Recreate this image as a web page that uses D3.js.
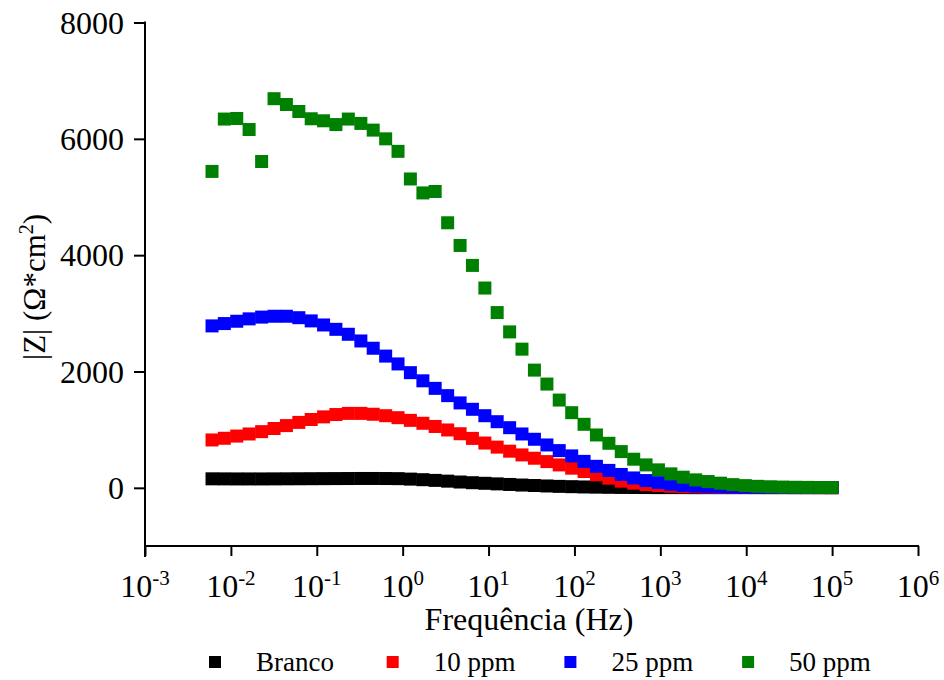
<!DOCTYPE html>
<html>
<head>
<meta charset="utf-8">
<script src="https://cdn.jsdelivr.net/npm/d3@7"></script>
<style>
  body { margin: 0; background: #fff; }
  svg text { font-family: 'Liberation Serif', 'DejaVu Serif', serif; fill: #000; }
</style>
</head>
<body>
<div id="chart"></div>
<script>
// frequencies (Hz), low to high
var freq = [0.00603, 0.00839, 0.0117, 0.0163, 0.0228, 0.0318, 0.0443, 0.0618, 0.0861, 0.120,
            0.167, 0.233, 0.326, 0.454, 0.634, 0.883, 1.23, 1.72, 2.39, 3.34,
            4.66, 6.49, 9.06, 12.6, 17.6, 24.5, 34.2, 47.8, 66.5, 92.9,
            129.4, 180.3, 251.8, 350.8, 489.8, 682.3, 950.6, 1327, 1849, 2582,
            3597, 5012, 6998, 9750, 13614, 18967, 26424, 36898, 51404, 71779, 100000];

var branco = [155, 154, 153, 153, 153, 154, 155, 156, 157, 158,
              159, 160, 161, 161, 160, 158, 150, 140, 128, 115,
              100, 88, 78, 68, 58, 48, 40, 32, 25, 20,
              15, 12, 9, 7, 6, 5, 4, 4, 4, 3,
              3, 3, 3, 3, 3, 3, 3, 3, 3, 3, 3];

var ppm10 = [823, 852, 890, 926, 966, 1020, 1070, 1125, 1175, 1220,
             1260, 1280, 1280, 1265, 1240, 1206, 1160, 1110, 1055, 995,
             930, 850, 770, 700, 630, 566, 509, 451, 394, 338,
             280, 223, 166, 115, 80, 55, 38, 27, 20, 15,
             12, 10, 8, 7, 6, 5, 5, 4, 4, 4, 3];

var ppm25 = [2784, 2824, 2864, 2905, 2935, 2950, 2950, 2925, 2870, 2800,
             2725, 2640, 2525, 2400, 2265, 2130, 1980, 1840, 1710, 1585,
             1460, 1350, 1240, 1137, 1034, 926, 835, 737, 640, 549,
             455, 370, 300, 230, 170, 125, 90, 62, 42, 30,
             22, 16, 12, 10, 8, 7, 6, 5, 5, 4, 4];

var ppm50 = [5440, 6340, 6350, 6160, 5610, 6690, 6590, 6470, 6345, 6310,
             6245, 6340, 6265, 6150, 6000, 5785, 5310, 5070, 5095, 4557,
             4167, 3824, 3435, 3013, 2681, 2384, 2024, 1784, 1509, 1292,
             1092, 909, 766, 623, 492, 394, 309, 240, 183, 137,
             108, 80, 55, 38, 26, 18, 13, 10, 8, 6, 5];

var seriesNames = ["Branco", "10 ppm", "25 ppm", "50 ppm"];
var seriesColors = ["#000000", "#ff0000", "#0000ff", "#008000"];
var seriesValues = [branco, ppm10, ppm25, ppm50];

var xMajor = [1e-3, 1e-2, 1e-1, 1e0, 1e1, 1e2, 1e3, 1e4, 1e5, 1e6];
var xExp = ["-3", "-2", "-1", "0", "1", "2", "3", "4", "5", "6"];
var yMajor = [0, 2000, 4000, 6000, 8000];
var yMinor = [-1000, 1000, 3000, 5000, 7000];

var serif = "'Liberation Serif', 'DejaVu Serif', serif";

var width = 944, height = 680;
var svg = d3.select("#chart").append("svg")
    .attr("width", width)
    .attr("height", height);

var x = d3.scaleLog().domain([1e-3, 1e6]).range([145, 918]);
var y = d3.scaleLinear().domain([-1000, 8000]).range([546, 22.5]);

// minor x ticks 2..9 per decade
var xMinor = [];
xMajor.slice(0, -1).forEach(function(d) {
  for (var k = 2; k <= 9; k++) xMinor.push(d * k);
});

var markerSize = 13;

// series, black first so green ends on top
seriesValues.forEach(function(vals, i) {
  svg.append("g")
    .selectAll("rect")
    .data(vals)
    .enter()
    .append("rect")
    .attr("x", function(d, j) { return x(freq[j]) - markerSize / 2; })
    .attr("y", function(d) { return y(d) - markerSize / 2; })
    .attr("width", markerSize)
    .attr("height", markerSize)
    .style("fill", seriesColors[i]);
});

// x axis
var gx = svg.append("g").attr("transform", "translate(0,546)");
gx.call(d3.axisBottom(x).tickValues(xMinor).tickSize(5).tickFormat(""));
gx.call(d3.axisBottom(x).tickValues(xMajor).tickSize(10).tickFormat("").tickSizeOuter(0));
gx.selectAll("path, line").attr("stroke", "#000").attr("stroke-width", 2);
gx.select(".domain").attr("d", "M144,0H919");

var xl = svg.append("g").selectAll("text")
    .data(xMajor)
    .enter()
    .append("text")
    .attr("x", function(d) { return x(d); })
    .attr("y", 597)
    .attr("text-anchor", "middle")
    .style("font-family", serif)
    .style("font-size", "32px");
xl.append("tspan").text("10");
xl.append("tspan")
    .attr("dy", -12)
    .style("font-size", "21px")
    .text(function(d, i) { return xExp[i]; });

// y axis
var gy = svg.append("g").attr("transform", "translate(145,0)");
gy.call(d3.axisLeft(y).tickValues(yMinor).tickSize(6).tickFormat(""));
gy.call(d3.axisLeft(y).tickValues(yMajor).tickSize(11).tickFormat("").tickSizeOuter(0));
gy.selectAll("path, line").attr("stroke", "#000").attr("stroke-width", 2);
gy.selectAll(".domain").attr("d", "M0,21.5V557");

svg.append("g").selectAll("text")
    .data(yMajor)
    .enter()
    .append("text")
    .attr("x", 124)
    .attr("y", function(d) { return y(d) + 11; })
    .attr("text-anchor", "end")
    .style("font-family", serif)
    .style("font-size", "32px")
    .text(function(d) { return d; });

// axis titles
svg.append("text")
    .attr("x", 529)
    .attr("y", 630)
    .attr("text-anchor", "middle")
    .style("font-family", serif)
    .style("font-size", "32px")
    .text("Frequência (Hz)");

var yt = svg.append("text")
    .attr("transform", "translate(45,287) rotate(-90)")
    .attr("text-anchor", "middle")
    .style("font-family", serif)
    .style("font-size", "31px");
yt.append("tspan").text("|Z| (Ω*cm");
yt.append("tspan").attr("dy", -12).style("font-size", "20px").text("2");
yt.append("tspan").attr("dy", 12).text(")");

// legend
var legend = svg.append("g").selectAll("g")
    .data(seriesNames)
    .enter()
    .append("g")
    .attr("transform", function(d, i) { return "translate(" + (215 + i * 177.7) + ",662)"; });

legend.append("rect")
    .attr("x", -6).attr("y", -6)
    .attr("width", 12).attr("height", 12)
    .style("fill", function(d, i) { return seriesColors[i]; });

legend.append("text")
    .attr("x", 41)
    .attr("y", 9)
    .style("font-family", serif)
    .style("font-size", "27px")
    .text(function(d) { return d; });
</script>
</body>
</html>
